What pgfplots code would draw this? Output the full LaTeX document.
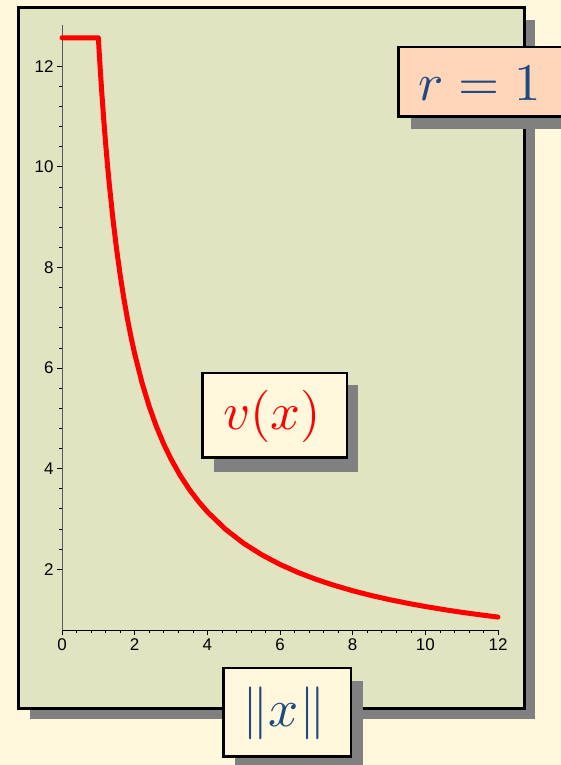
\documentclass[border=0pt]{standalone}
\usepackage{pgfplots}
\pgfplotsset{compat=1.18}
\usepackage{fontspec}
\setsansfont{Liberation Sans}

\definecolor{cream}{RGB}{255,248,220}
\definecolor{panel}{RGB}{224,228,192}
\definecolor{peach}{RGB}{255,214,186}
\definecolor{ink}{RGB}{31,73,128}
\definecolor{shadowgray}{RGB}{128,128,128}

\begin{document}
\begin{tikzpicture}
  % page and clipping to the picture size
  \useasboundingbox (0bp,0bp) rectangle (561bp,765bp);
  \clip (0bp,0bp) rectangle (561bp,765bp);
  \fill[cream] (0bp,0bp) rectangle (561bp,765bp);

  % panel with its shadow
  \fill[shadowgray] (30bp,46bp) rectangle (535bp,745bp);
  \draw[line width=3bp,fill=panel] (18.5bp,56.5bp) rectangle (524.5bp,757.5bp);

  \begin{axis}[
      at={(62bp,135bp)}, anchor=south west,
      scale only axis, width=436bp, height=605bp,
      xmin=0, xmax=12, ymin=0.79, ymax=12.82,
      axis lines=left,
      axis line style={-},
      x axis line style={black},
      y axis line style={black!65},
      xtick={0,2,...,12}, ytick={2,4,...,12},
      minor x tick num=4, minor y tick num=4,
      tick align=outside,
      major tick length=5bp, minor tick length=3bp,
      tick style={black, line width=0.8pt},
      minor tick style={black, line width=0.6pt},
      ticklabel style={font=\fontsize{17}{20}\sffamily},
      /pgf/number format/assume math mode=true,
      clip=false,
    ]
    \addplot[red, line width=5bp, line cap=round, line join=round] coordinates {
      (0,12.566) (1,12.566)
      (1.05,11.968) (1.1,11.424) (1.15,10.927) (1.2,10.472) (1.25,10.053)
      (1.3,9.667) (1.4,8.976) (1.5,8.378) (1.6,7.854) (1.7,7.392)
      (1.8,6.981) (1.9,6.614) (2.0,6.283) (2.2,5.712) (2.4,5.236)
      (2.6,4.833) (2.8,4.488) (3.0,4.189) (3.25,3.867) (3.5,3.590)
      (3.75,3.351) (4.0,3.142) (4.5,2.793) (5.0,2.513) (5.5,2.285)
      (6.0,2.094) (6.5,1.933) (7.0,1.795) (7.5,1.676) (8.0,1.571)
      (8.5,1.478) (9.0,1.396) (9.5,1.323) (10.0,1.257) (10.5,1.197)
      (11.0,1.142) (11.5,1.093) (12.0,1.047)
    };
  \end{axis}

  % curve label
  \fill[shadowgray] (214bp,293bp) rectangle (358bp,380bp);
  \draw[line width=2.5bp,fill=cream] (202.25bp,307.25bp) rectangle (346.75bp,391.75bp);
  \node[red, scale=5.25] at (272bp,349bp) {$v(x)$};

  % radius label
  \fill[shadowgray] (411bp,636bp) rectangle (590bp,708bp);
  \draw[line width=2.5bp,fill=peach] (398.25bp,648.25bp) rectangle (566bp,717.75bp);
  \node[ink, scale=5.3] at (480bp,682bp) {$r=1$};

  % horizontal axis label
  \fill[shadowgray] (235bp,-5bp) rectangle (363bp,84bp);
  \draw[line width=2.5bp,fill=cream] (223.25bp,8.25bp) rectangle (350.75bp,96.75bp);
  \node[ink, scale=5.3] at (284bp,52bp) {$\|x\|$};
\end{tikzpicture}
\end{document}
